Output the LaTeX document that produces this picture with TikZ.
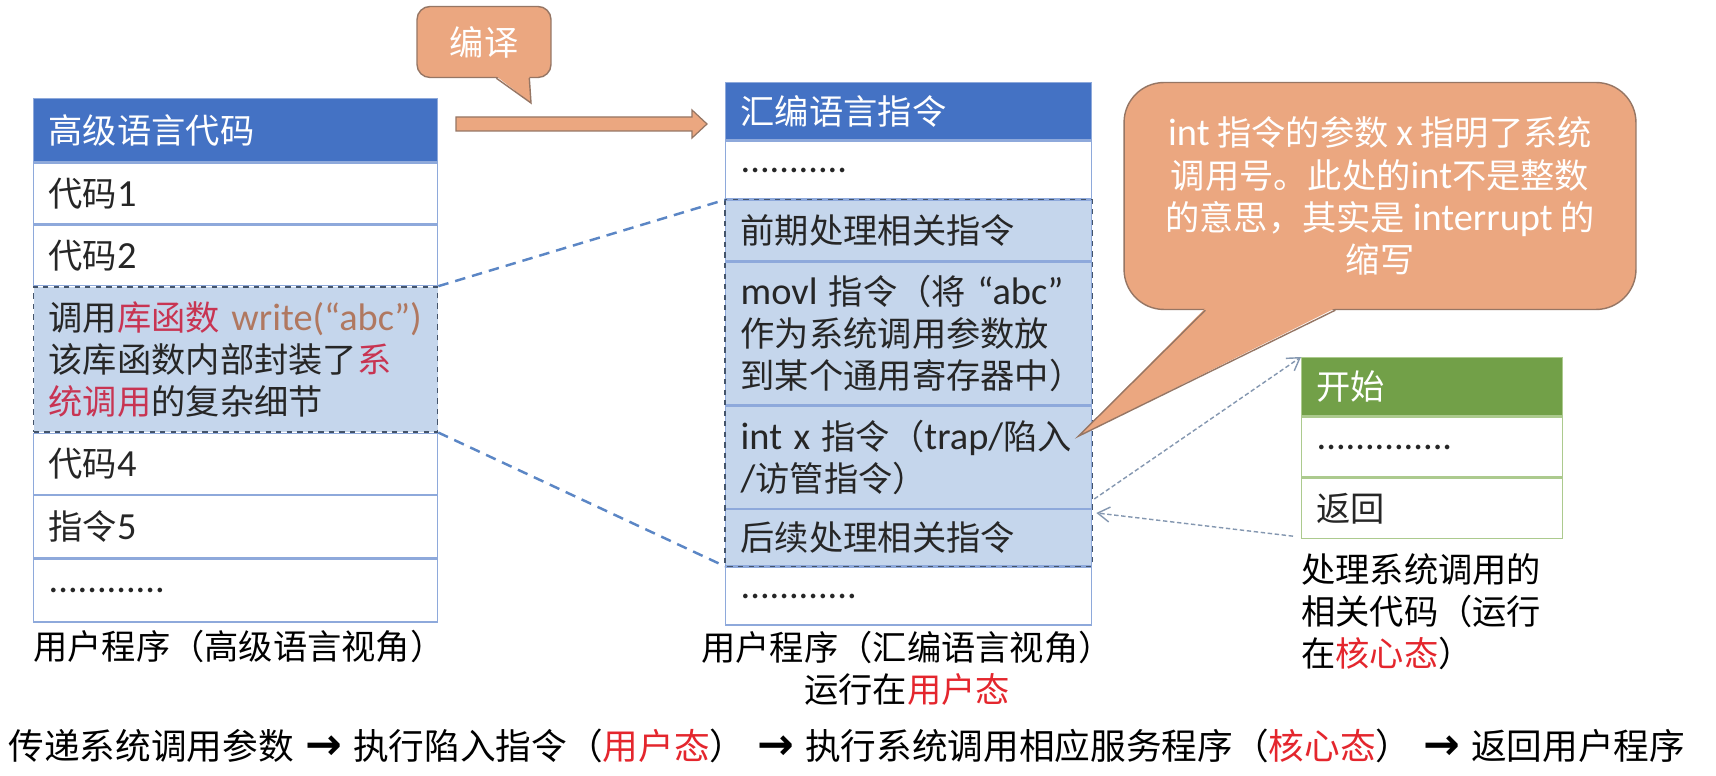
\documentclass[tikz,border=0pt]{standalone}
\usepackage{fontspec}
\setmainfont{Noto Sans CJK SC}
\newfontfamily\enfont{Carlito}[Scale=1.12]
\newfontfamily\symfont{DejaVu Sans}
\usepackage{xcolor}
\usetikzlibrary{arrows.meta, positioning, calc}
\definecolor{cHead}{RGB}{68,114,196}
\definecolor{cLine}{RGB}{142,169,219}
\definecolor{cHi}{RGB}{197,214,236}
\definecolor{cHiBorder}{RGB}{68,84,106}
\definecolor{cText}{RGB}{38,38,38}
\definecolor{cRed}{RGB}{200,52,82}
\definecolor{cBrown}{RGB}{176,120,96}
\definecolor{cState}{RGB}{228,38,45}
\definecolor{cOrange}{RGB}{235,167,128}
\definecolor{cOrangeD}{RGB}{150,118,100}
\definecolor{cGreen}{RGB}{114,160,72}
\definecolor{cGreenLine}{RGB}{172,202,142}
\definecolor{cDash}{RGB}{91,134,197}
\definecolor{cDot}{RGB}{132,151,176}
\newcommand\dgmfont{\fontsize{19.5}{24}\selectfont}
\newcommand\flowfont{\fontsize{20.3}{24}\selectfont}
\newcommand\flowarr{\hspace{6.5pt}{\symfont\bfseries\fontsize{25}{24}\selectfont →}\hspace{6.5pt}}
\tikzset{
	cell/.style    ={draw=cLine, line width=0.8pt, fill=white, anchor=north west, inner xsep=0.3cm, inner ysep=0pt, align=left, text=cText, font=\dgmfont},
	hdr/.style     ={cell, fill=cHead, text=white},
	hicell/.style  ={cell, fill=cHi, draw=cHiBorder, dashed},
	lcol/.style    ={text width=7.48cm},
	mcol/.style    ={text width=6.72cm},
	rcol/.style    ={text width=4.62cm, draw=cGreenLine},
	hibox/.style   ={draw=cHiBorder, line width=0.8pt, dashed},
	dashline/.style={cDash, line width=1.4pt, dash pattern=on 6pt off 4pt},
	dotarrow/.style={-{Straight Barb[length=2.4mm, width=3mm]}, cDot, line width=0.8pt, dash pattern=on 2.5pt off 1.5pt},
	bubble/.style  ={draw=cOrangeD, line width=0.8pt, fill=cOrange, rounded corners, text=white, align=center, font=\dgmfont},
	blockarrow/.style={draw=cOrangeD, line width=0.7pt, fill=cOrange},
	lbl/.style     ={text=black, font=\dgmfont, inner sep=0pt},
}
\begin{document}
\begin{tikzpicture}[x=0.02cm, y=-0.02cm]
\useasboundingbox[fill=white] (0,0) rectangle (1716,776);

% user program, high level view
\node[hdr, lcol, minimum height=1.26cm] (hdrL) at (33,98) {高级语言代码};
\node[cell, lcol, minimum height=1.22cm, below=0pt of hdrL] (l1) {代码{\enfont 1}};
\node[cell, lcol, minimum height=1.2cm, below=0pt of l1] (l2) {代码{\enfont 2}};
\node[hicell, lcol, minimum height=2.9cm, below=0pt of l2, text=cText] (l3) {调用\textcolor{cRed}{库函数} \textcolor{cBrown}{\enfont write(“abc”)}\\该库函数内部封装了\textcolor{cRed}{系}\\\textcolor{cRed}{统调用}的复杂细节};
\node[cell, lcol, minimum height=1.22cm, below=0pt of l3] (l4) {代码{\enfont 4}};
\node[cell, lcol, minimum height=1.24cm, below=0pt of l4] (l5) {指令{\enfont 5}};
\node[cell, lcol, minimum height=1.26cm, below=0pt of l5] (l6) {\enfont ............};
\node[lbl, anchor=west] (capL) at (33,646) {用户程序（高级语言视角）};

% user program, assembly view
\node[hdr, mcol, minimum height=1.14cm] (hdrM) at (725,82) {汇编语言指令};
\node[cell, mcol, minimum height=1.16cm, below=0pt of hdrM] (m1) {\enfont ...........};
\node[cell, mcol, minimum height=1.2cm, fill=cHi, below=0pt of m1] (m2) {前期处理相关指令};
\node[cell, mcol, minimum height=2.86cm, fill=cHi, below=0pt of m2] (m3) {{\enfont movl} 指令（将 {\enfont “abc”}\\作为系统调用参数放\\到某个通用寄存器中）};
\node[cell, mcol, minimum height=2.04cm, fill=cHi, below=0pt of m3] (m4) {{\enfont int x} 指令（{\enfont trap/}陷入\\{\enfont /}访管指令）};
\node[cell, mcol, minimum height=1.12cm, fill=cHi, below=0pt of m4] (m5) {后续处理相关指令};
\node[cell, mcol, minimum height=1.16cm, below=0pt of m5] (m6) {\enfont ............};
\draw[hibox] (m2.north west) rectangle (m5.south east);
\node[lbl, align=center] (capM) at (907,668) {用户程序（汇编语言视角）\\运行在\textcolor{cState}{用户态}};

% kernel handler
\node[hdr, rcol, fill=cGreen, minimum height=1.16cm] (hdrR) at (1301,357) {开始};
\node[cell, rcol, minimum height=1.2cm, below=0pt of hdrR] (r1) {\enfont ..............};
\node[cell, rcol, minimum height=1.2cm, below=0pt of r1] (r2) {返回};
\node[lbl, align=left, anchor=north west] (capR) at (1301,553) {处理系统调用的\\相关代码（运行\\在\textcolor{cState}{核心态}）};

% compile step
\coordinate (aS) at (456,124);
\coordinate (aE) at (707,124);
\draw[blockarrow] ($(aS)+(0,-7)$) -- ($(aE)+(-15,-7)$) -- ($(aE)+(-15,-14)$) -- (aE)
	-- ($(aE)+(-15,14)$) -- ($(aE)+(-15,7)$) -- ($(aS)+(0,7)$) -- cycle;
\node[bubble, minimum width=2.68cm, minimum height=1.42cm, rounded corners=0.26cm] (cbub) at (484,42) {编译};
\coordinate (ctip) at (531,103);
\fill[cOrange] ($(cbub.south west)+(80,-2)$) -- (ctip) -- ($(cbub.south west)+(113,-2)$) -- cycle;
\draw[cOrangeD, line width=0.8pt] ($(cbub.south west)+(80,0)$) -- (ctip) -- ($(cbub.south west)+(113,0)$);

% zoom lines
\draw[dashline] (l3.north east) -- (m2.north west);
\draw[dashline] (l3.south east) -- (m5.south west);

% note on int
\node[bubble, minimum width=10.24cm, minimum height=4.54cm, rounded corners=0.8cm] (note) at (1380,196) {{\enfont int} 指令的参数 {\enfont x} 指明了系统\\调用号。此处的{\enfont int}不是整数\\的意思，其实是 {\enfont interrupt} 的\\缩写};
\coordinate (ntip) at ($(m4.east)+(-14,-21)$);
\fill[cOrange] ($(note.south west)+(82,-2)$) -- (ntip) -- ($(note.south west)+(212,-2)$) -- cycle;
\draw[cOrangeD, line width=0.8pt] ($(note.south west)+(82,0)$) -- (ntip) -- ($(note.south west)+(212,0)$);

% trap and return
\draw[dotarrow] ($(m4.south east)+(2,-10)$) -- (hdrR.north west);
\draw[dotarrow] ($(r2.south west)+(-8,-3)$) -- ($(m5.north east)+(4,4)$);

% flow summary
\node[lbl, anchor=west, font=\flowfont] (flow) at (8,746) {传递系统调用参数\flowarr 执行陷入指令（\textcolor{cState}{用户态}）\flowarr 执行系统调用相应服务程序（\textcolor{cState}{核心态}）\flowarr 返回用户程序};
\end{tikzpicture}
\end{document}
